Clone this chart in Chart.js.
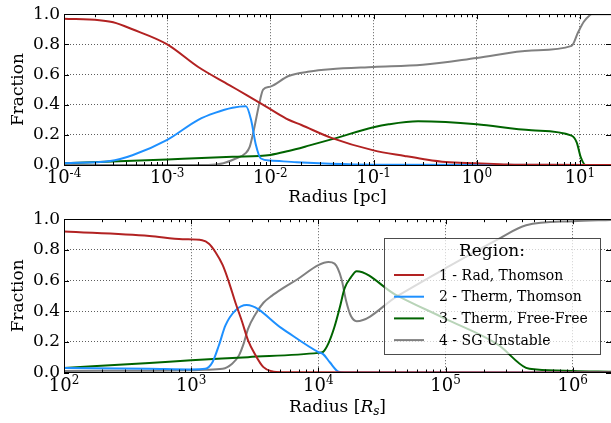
<!DOCTYPE html>
<html>
<head>
<meta charset="utf-8">
<script src="https://cdn.jsdelivr.net/npm/chart.js@4.4.0/dist/chart.umd.min.js"></script>
<style>
  body { margin: 0; background: #fff; }
  #wrap { position: relative; width: 611px; height: 423px; }
  canvas { position: absolute; left: 0; }
</style>
</head>
<body>
<div id="wrap">
  <canvas id="topChart" width="611" height="215" style="top:0"></canvas>
  <canvas id="bottomChart" width="611" height="218" style="top:205px"></canvas>
</div>
<script>
// legend labels and colours, shared by both panels
const regionLabels = ['1 - Rad, Thomson', '2 - Therm, Thomson', '3 - Therm, Free-Free', '4 - SG Unstable'];
const regionColors = ['#b22222', '#1e90ff', '#006400', '#808080'];

const yTicks = [0, 0.2, 0.4, 0.6, 0.8, 1.0];

// top panel: radius in pc
const topTicks = [1e-4, 1e-3, 1e-2, 1e-1, 1, 10];
const topTickExp = ['-4', '-3', '-2', '-1', '0', '1'];

const redTopR = [1e-4, 2.2e-4, 3e-4, 4.6e-4, 1e-3, 2e-3, 4e-3, 6e-3, 1e-2, 1.5e-2, 2e-2, 3.9e-2, 1e-1, 2e-1, 3e-1, 5e-1, 1, 2, 5, 20];
const redTopF = [0.97, 0.96, 0.946, 0.90, 0.80, 0.65, 0.53, 0.46, 0.37, 0.30, 0.265, 0.18, 0.097, 0.06, 0.04, 0.02, 0.012, 0.004, 0.001, 0];

const blueTopR = [1e-4, 2.8e-4, 4.6e-4, 1e-3, 2e-3, 2.9e-3, 4.3e-3, 5.8e-3, 6.5e-3, 7.2e-3, 8.1e-3, 1e-2, 1.8e-2, 3.8e-2, 1e-1, 20];
const blueTopF = [0.012, 0.026, 0.065, 0.167, 0.30, 0.346, 0.38, 0.39, 0.30, 0.14, 0.043, 0.03, 0.018, 0.008, 0.002, 0];

const greenTopR = [1e-4, 1e-3, 4.3e-3, 1e-2, 1.5e-2, 2.4e-2, 3.9e-2, 1e-1, 1.4e-1, 2.7e-1, 5e-1, 1, 3.4, 8.3, 9.3, 10.2, 11.3, 20];
const greenTopF = [0.012, 0.037, 0.054, 0.067, 0.093, 0.13, 0.17, 0.25, 0.27, 0.29, 0.285, 0.27, 0.23, 0.195, 0.15, 0.05, 0, 0];

const grayTopR = [1e-4, 2.5e-3, 3.5e-3, 4.5e-3, 5.8e-3, 6.3e-3, 6.8e-3, 8e-3, 8.5e-3, 1e-2, 1.5e-2, 2.4e-2, 3.8e-2, 1e-1, 3e-1, 1, 3.4, 8.3, 9.6, 10.9, 12.3, 13, 20];
const grayTopF = [0, 0, 0.012, 0.04, 0.08, 0.12, 0.21, 0.44, 0.50, 0.52, 0.59, 0.62, 0.635, 0.65, 0.665, 0.71, 0.76, 0.79, 0.88, 0.95, 0.99, 1, 1];

// bottom panel: radius in Schwarzschild radii
const botTicks = [1e2, 1e3, 1e4, 1e5, 1e6];
const botTickExp = ['2', '3', '4', '5', '6'];

const redBotR = [1e2, 470, 855, 1.22e3, 1.38e3, 1.55e3, 1.77e3, 1.98e3, 2.23e3, 2.51e3, 2.8e3, 3.2e3, 3.7e3, 4.3e3, 5.2e3, 2e6];
const redBotF = [0.92, 0.89, 0.87, 0.863, 0.84, 0.786, 0.70, 0.59, 0.455, 0.333, 0.21, 0.114, 0.035, 0.008, 0.002, 0];

const blueBotR = [1e2, 470, 1e3, 1.29e3, 1.47e3, 1.65e3, 1.86e3, 2.23e3, 2.73e3, 5.2e3, 1e4, 1.09e4, 1.23e4, 1.44e4, 1.6e4, 2e6];
const blueBotF = [0.03, 0.024, 0.02, 0.024, 0.067, 0.176, 0.307, 0.405, 0.44, 0.286, 0.133, 0.12, 0.067, 0.005, 0, 0];

const greenBotR = [1e2, 470, 1e3, 2.8e3, 1e4, 1.09e4, 1.2e4, 1.33e4, 1.47e4, 1.61e4, 1.8e4, 2e4, 4e4, 1e5, 2.6e5, 4.3e5, 5.2e5, 1e6, 2e6];
const greenBotF = [0.03, 0.062, 0.08, 0.10, 0.128, 0.135, 0.19, 0.29, 0.42, 0.55, 0.62, 0.66, 0.51, 0.35, 0.18, 0.03, 0.02, 0.01, 0.005];

const grayBotR = [1e2, 1e3, 1.29e3, 1.77e3, 2.1e3, 2.37e3, 2.59e3, 2.8e3, 3.2e3, 3.7e3, 4.3e3, 5.2e3, 6.9e3, 1e4, 1.2e4, 1.34e4, 1.52e4, 1.65e4, 1.8e4, 2e4, 4.2e4, 1e5, 2.6e5, 4.3e5, 1e6, 2e6];
const grayBotF = [0.01, 0.015, 0.018, 0.024, 0.057, 0.11, 0.19, 0.285, 0.38, 0.455, 0.50, 0.547, 0.61, 0.70, 0.72, 0.71, 0.61, 0.47, 0.37, 0.335, 0.50, 0.68, 0.87, 0.96, 0.987, 0.995];

const serif = '"DejaVu Serif", "Liberation Serif", serif';

const toPoints = (rs, fs) => rs.map((r, i) => ({ x: r, y: fs[i] }));

const makeSets = (series) =>
  series.map((s, i) => ({
    label: regionLabels[i],
    data: toPoints(s[0], s[1]),
    borderColor: regionColors[i],
    borderWidth: 2,
    pointRadius: 0,
    cubicInterpolationMode: 'monotone',
    fill: false,
  }));

// frame, inward ticks, x tick labels with exponents, axis titles, legend
const decor = {
  id: 'decor',
  afterDraw(chart, args, o) {
    const { ctx, chartArea: a } = chart;
    const x = chart.scales.x;
    const y = chart.scales.y;
    ctx.save();
    ctx.strokeStyle = '#000';
    ctx.lineWidth = 1;

    // tick marks pointing inward
    ctx.beginPath();
    const lo = Math.floor(Math.log10(x.min));
    const hi = Math.ceil(Math.log10(x.max));
    for (let d = lo; d <= hi; d++) {
      for (let k = 1; k <= 9; k++) {
        const v = k * Math.pow(10, d);
        if (v < x.min * 0.999 || v > x.max * 1.001) continue;
        const px = Math.round(x.getPixelForValue(v)) + 0.5;
        const len = k === 1 ? 5 : 3;
        ctx.moveTo(px, a.bottom); ctx.lineTo(px, a.bottom - len);
        ctx.moveTo(px, a.top); ctx.lineTo(px, a.top + len);
      }
    }
    yTicks.forEach((v) => {
      const py = Math.round(y.getPixelForValue(v)) + 0.5;
      ctx.moveTo(a.left, py); ctx.lineTo(a.left + 5, py);
      ctx.moveTo(a.right, py); ctx.lineTo(a.right - 5, py);
    });
    ctx.stroke();

    ctx.strokeRect(Math.round(a.left) + 0.5, Math.round(a.top) + 0.5,
      Math.round(a.right - a.left), Math.round(a.bottom - a.top));

    // x tick labels: 10 with a raised exponent
    ctx.fillStyle = '#000';
    ctx.textBaseline = 'alphabetic';
    ctx.textAlign = 'left';
    const base = a.bottom + 18;
    o.ticks.forEach((v, i) => {
      const px = x.getPixelForValue(v);
      ctx.font = '18px ' + serif;
      const w1 = ctx.measureText('10').width;
      ctx.font = '12px ' + serif;
      const w2 = ctx.measureText(o.exps[i]).width;
      const left = px - (w1 + w2) / 2;
      ctx.font = '18px ' + serif;
      ctx.fillText('10', left, base);
      ctx.font = '12px ' + serif;
      ctx.fillText(o.exps[i], left + w1, base - 6.5);
    });

    // x title made of runs
    let total = 0;
    o.title.forEach((p) => {
      ctx.font = p.f;
      p.w = ctx.measureText(p.t).width;
      total += p.w;
    });
    let tx = (a.left + a.right) / 2 - total / 2;
    const ty = a.bottom + o.titleY;
    o.title.forEach((p) => {
      ctx.font = p.f;
      ctx.fillText(p.t, tx, ty + (p.dy || 0));
      tx += p.w;
    });

    // y title
    ctx.save();
    ctx.translate(23, (a.top + a.bottom) / 2);
    ctx.rotate(-Math.PI / 2);
    ctx.textAlign = 'center';
    ctx.font = '17px ' + serif;
    ctx.fillText('Fraction', 0, 0);
    ctx.restore();

    // legend box
    if (o.legend) {
      const L = o.legend;
      ctx.fillStyle = 'rgba(255,255,255,0.72)';
      ctx.fillRect(L.x, L.y, L.w, L.h);
      ctx.strokeStyle = 'rgba(0,0,0,0.7)';
      ctx.strokeRect(L.x + 0.5, L.y + 0.5, L.w, L.h);
      ctx.fillStyle = '#000';
      ctx.textAlign = 'center';
      ctx.textBaseline = 'middle';
      ctx.font = '17px ' + serif;
      ctx.fillText('Region:', L.x + L.w / 2, L.y + 14);
      ctx.textAlign = 'left';
      ctx.font = '14px ' + serif;
      chart.data.datasets.forEach((ds, i) => {
        const ry = L.y + 37 + i * 21.7;
        ctx.strokeStyle = ds.borderColor;
        ctx.lineWidth = 2;
        ctx.beginPath();
        ctx.moveTo(L.x + 10, ry);
        ctx.lineTo(L.x + 40, ry);
        ctx.stroke();
        ctx.fillText(ds.label, L.x + 55, ry + 1);
      });
    }
    ctx.restore();
  },
};

const makeChart = (id, sets, cfg) =>
  new Chart(document.getElementById(id), {
    type: 'line',
    data: { datasets: sets },
    plugins: [decor],
    options: {
      responsive: false,
      animation: false,
      layout: { padding: { top: cfg.padTop, left: 0, right: 0, bottom: 0 } },
      plugins: {
        legend: { display: false },
        tooltip: { enabled: false },
        decor: { ticks: cfg.ticks, exps: cfg.exps, title: cfg.title, titleY: cfg.titleY, legend: cfg.legend },
      },
      scales: {
        x: {
          type: 'logarithmic',
          min: cfg.min,
          max: cfg.max,
          afterBuildTicks: (s) => { s.ticks = cfg.ticks.map((v) => ({ value: v })); },
          afterFit: (s) => { s.height = cfg.xHeight; },
          ticks: { display: false },
          grid: { color: '#333', lineWidth: 0.8, drawTicks: false },
          border: { display: false, dash: [1, 2] },
        },
        y: {
          min: 0,
          max: 1,
          afterBuildTicks: (s) => { s.ticks = yTicks.map((v) => ({ value: v })); },
          afterFit: (s) => { s.width = 64; },
          ticks: {
            callback: (v) => v.toFixed(1),
            color: '#000',
            padding: 4,
            font: { family: serif, size: 17 },
          },
          grid: { color: '#333', lineWidth: 0.8, drawTicks: false },
          border: { display: false, dash: [1, 2] },
        },
      },
    },
  });

makeChart('topChart', makeSets([
  [redTopR, redTopF], [blueTopR, blueTopF], [greenTopR, greenTopF], [grayTopR, grayTopF],
]), {
  min: 1e-4, max: 20, ticks: topTicks, exps: topTickExp,
  padTop: 11.7, xHeight: 50, titleY: 37,
  title: [
    { t: 'Radius ', f: '17px ' + serif },
    { t: '[pc]', f: '17px ' + serif },
  ],
});

makeChart('bottomChart', makeSets([
  [redBotR, redBotF], [blueBotR, blueBotF], [greenBotR, greenBotF], [grayBotR, grayBotF],
]), {
  min: 1e2, max: 2e6, ticks: botTicks, exps: botTickExp,
  padTop: 14, xHeight: 50.5, titleY: 39.5,
  title: [
    { t: 'Radius ', f: '17px ' + serif },
    { t: '[', f: '17px ' + serif },
    { t: 'R', f: 'italic 17px ' + serif },
    { t: 's', f: 'italic 12px ' + serif, dy: 3 },
    { t: ']', f: '17px ' + serif },
  ],
  legend: { x: 384, y: 33, w: 216, h: 116 },
});
</script>
</body>
</html>
